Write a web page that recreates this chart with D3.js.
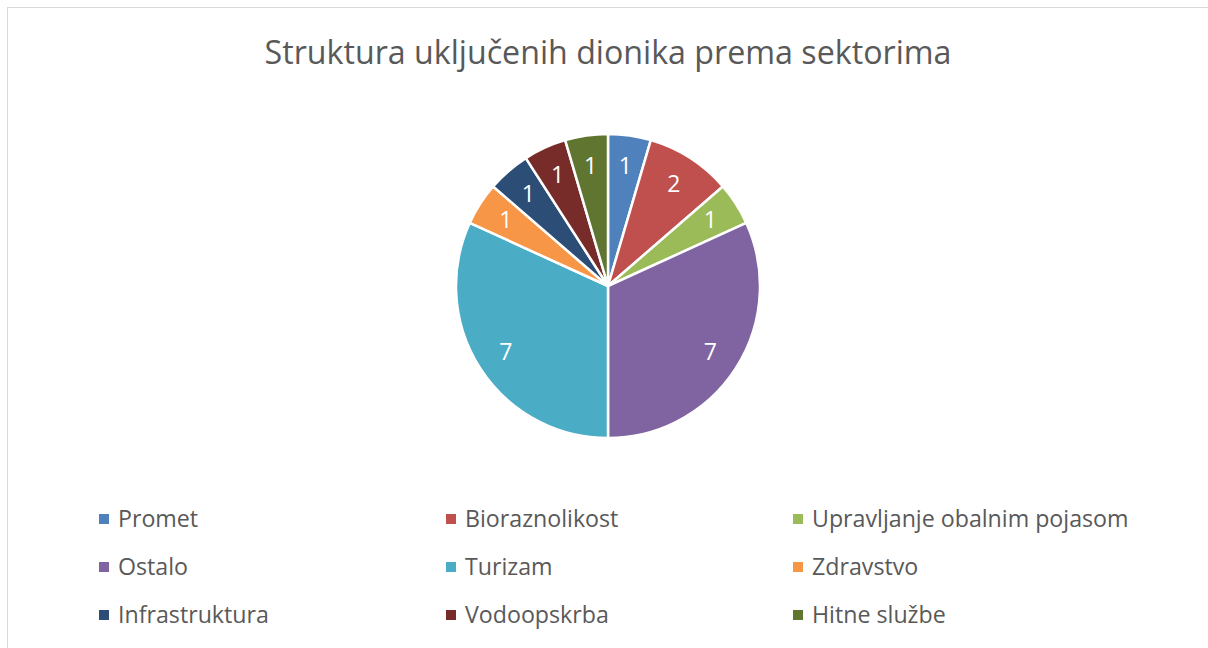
<!DOCTYPE html>
<html>
<head>
<meta charset="utf-8">
<script src="https://cdn.jsdelivr.net/npm/d3@7"></script>
<style>
  body { margin: 0; background: #fff; }
  svg text { font-family: "Open Sans", "Noto Sans", sans-serif; }
</style>
</head>
<body>
<script>
var W = 1208, H = 648;
var TITLE = "Struktura uključenih dionika prema sektorima";

// sectors and counts
var sectors = ["Promet", "Bioraznolikost", "Upravljanje obalnim pojasom",
  "Ostalo", "Turizam", "Zdravstvo", "Infrastruktura", "Vodoopskrba", "Hitne službe"];
var counts = [1, 2, 1, 7, 7, 1, 1, 1, 1];
var colors = ["#4F81BD", "#C0504D", "#9BBB59", "#8064A2", "#4BACC6",
  "#F79646", "#2C4D75", "#772C2A", "#5F7530"];

var data = sectors.map(function(s, i) { return {name: s, value: counts[i], color: colors[i]}; });

var svg = d3.select("body").append("svg")
  .attr("width", W).attr("height", H);

// chart frame
svg.append("rect")
  .attr("x", 7.5).attr("y", 7.5)
  .attr("width", W + 10).attr("height", H + 10)
  .attr("fill", "#fff").attr("stroke", "#d9d9d9").attr("stroke-width", 1);

svg.append("text")
  .attr("x", 608).attr("y", 64)
  .attr("text-anchor", "middle")
  .attr("font-size", 32.2)
  .attr("fill", "#595959")
  .text(TITLE);

var R = 152;
var pie = d3.pie().value(function(d) { return d.value; }).sort(null);
var arc = d3.arc().innerRadius(0).outerRadius(R);
var labelArc = d3.arc().innerRadius(R * 0.8).outerRadius(R * 0.8);

var g = svg.append("g").attr("transform", "translate(608,286)");
var arcs = pie(data);

g.selectAll("path")
  .data(arcs)
  .enter().append("path")
  .attr("d", arc)
  .attr("fill", function(d) { return d.data.color; })
  .attr("stroke", "#fff")
  .attr("stroke-width", 2.5)
  .attr("stroke-linejoin", "round");

g.selectAll("text.lbl")
  .data(arcs)
  .enter().append("text")
  .attr("class", "lbl")
  .attr("transform", function(d) { return "translate(" + labelArc.centroid(d) + ")"; })
  .attr("text-anchor", "middle")
  .attr("dy", "0.35em")
  .attr("font-size", 23)
  .attr("fill", "#fff")
  .text(function(d) { return d.data.value; });

// legend, 3 columns
var colX = d3.scaleOrdinal().domain([0, 1, 2]).range([99, 446, 793]);
var rowY = d3.scaleOrdinal().domain([0, 1, 2]).range([519, 567, 615]);

var leg = svg.selectAll("g.leg")
  .data(data)
  .enter().append("g")
  .attr("class", "leg")
  .attr("transform", function(d, i) { return "translate(" + colX(i % 3) + "," + rowY(Math.floor(i / 3)) + ")"; });

leg.append("rect")
  .attr("x", 0).attr("y", -5)
  .attr("width", 10).attr("height", 10)
  .attr("fill", function(d) { return d.color; });

leg.append("text")
  .attr("x", 19).attr("y", 0)
  .attr("dy", "0.35em")
  .attr("font-size", 23.2)
  .attr("fill", "#595959")
  .text(function(d) { return d.name; });
</script>
</body>
</html>
